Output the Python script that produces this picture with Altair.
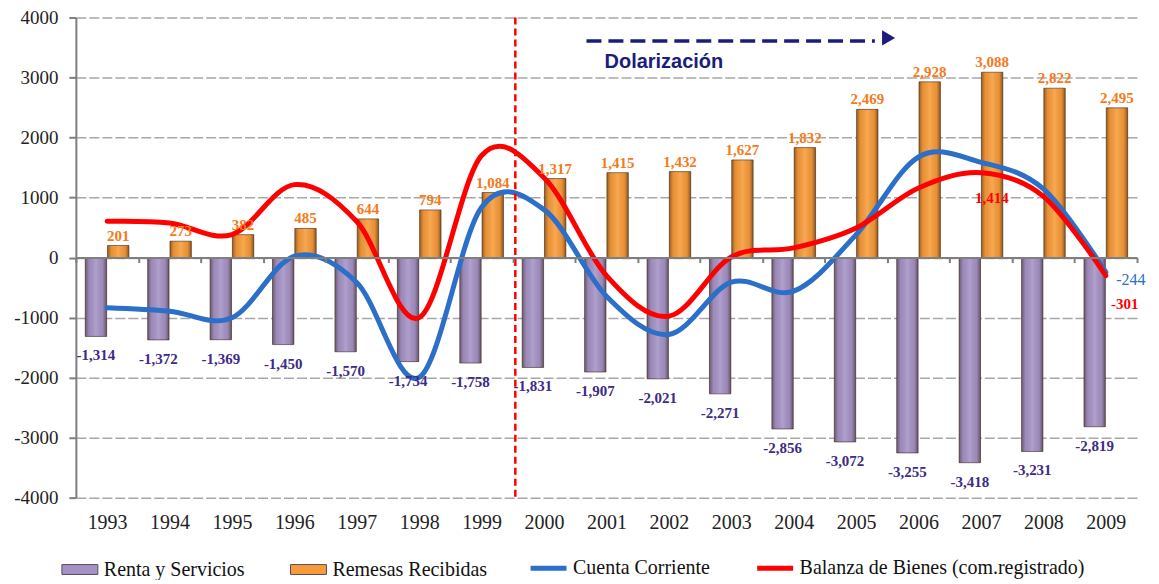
import altair as alt
import pandas as pd

years = [str(y) for y in range(1993, 2010)]
renta = [-1314, -1372, -1369, -1450, -1570, -1734, -1758, -1831, -1907, -2021,
         -2271, -2856, -3072, -3255, -3418, -3231, -2819]
remesas = [201, 273, 382, 485, 644, 794, 1084, 1317, 1415, 1432, 1627, 1832,
           2469, 2928, 3088, 2822, 2495]
cuenta = [-837, -893, -1004, 22, -416, -1997, 840, 799, -644, -1281, -411,
          -560, 383, 1676, 1586, 1143, -244]
balanza = [604, 577, 383, 1215, 600, -1000, 1700, 1330, -300, -976, 10, 161,
           494, 1160, 1414, 1020, -301]

series_bars = ["Renta y Servicios", "Remesas Recibidas"]
series_lines = ["Cuenta Corriente", "Balanza de Bienes (com.registrado)"]
bar_colors = ["#a593c6", "#f89c3a"]
line_colors = ["#2b6fc8", "#ff0000"]

brows = []
for i, y in enumerate(years):
    brows.append({"year": y, "series": series_bars[0], "value": renta[i], "label": f"{renta[i]:,}"})
    brows.append({"year": y, "series": series_bars[1], "value": remesas[i], "label": f"{remesas[i]:,}"})
bars_df = pd.DataFrame(brows)

lrows = []
for i, y in enumerate(years):
    lrows.append({"year": y, "series": series_lines[0], "value": cuenta[i], "label": f"{cuenta[i]:,}"})
    lrows.append({"year": y, "series": series_lines[1], "value": balanza[i], "label": f"{balanza[i]:,}"})
lines_df = pd.DataFrame(lrows)

SERIF = "Liberation Serif"

fill_scale = alt.Scale(domain=series_bars, range=bar_colors)
stroke_scale = alt.Scale(domain=series_lines, range=line_colors)
legend_bars = alt.Legend(
    title=None, orient="none", legendX=-15, legendY=543, direction="horizontal",
    columns=2, symbolType="M-1,-0.55H3V0.55H-1Z", symbolSize=324,
    symbolStrokeColor="#5a4a60", symbolStrokeWidth=1, symbolOpacity=1,
    labelFont=SERIF, labelFontSize=20, labelColor="#111111",
    labelOffset=23, columnPadding=43, padding=0, labelLimit=500,
)
legend_lines = alt.Legend(
    title=None, orient="none", legendX=453, legendY=531, direction="horizontal",
    columns=2, symbolType="stroke", symbolSize=1296, symbolStrokeWidth=5, symbolOpacity=1,
    labelFont=SERIF, labelFontSize=20, labelColor="#111111",
    labelOffset=4, columnPadding=36, padding=0, labelLimit=500,
)

xscale = alt.Scale(domain=years, paddingInner=0, paddingOuter=0)
xaxis = alt.Axis(
    title=None, orient="bottom", offset=-240.5, domainColor="#7f7f7f", domainWidth=2,
    tickColor="#7f7f7f", tickWidth=2, tickSize=5, tickBand="extent", labelPadding=250,
    labelFont=SERIF, labelFontSize=20, labelColor="#222222", labelAngle=0, grid=False, zindex=1,
)
yscale = alt.Scale(domain=[-4000, 4000], nice=False)
yaxis = alt.Axis(
    title=None, values=list(range(-4000, 4001, 1000)), labelExpr="'' + datum.value",
    grid=True, gridColor="#a8a8a8", gridDash=[10, 3], gridWidth=1.5,
    domainColor="#7f7f7f", domainWidth=2, tickColor="#7f7f7f", tickSize=7, tickWidth=2,
    labelPadding=11, labelFont=SERIF, labelFontSize=19, labelColor="#222222",
)
xoff_scale = alt.Scale(domain=series_bars, paddingOuter=0.42, paddingInner=0.04)

X = alt.X("year:N", scale=xscale, axis=xaxis, sort=years)
XO = alt.XOffset("series:N", scale=xoff_scale, sort=series_bars)
Y = alt.Y("value:Q", scale=yscale, axis=yaxis)

base_bars = alt.Chart(bars_df)
bars = base_bars.mark_bar().encode(
    x=X, xOffset=XO, y=Y,
    fill=alt.Fill("series:N", scale=fill_scale, legend=legend_bars),
)
shade_grad = alt.LinearGradient(
    gradient="linear", x1=0, x2=1, y1=0, y2=0,
    stops=[
        alt.GradientStop(offset=0, color="rgba(40,20,10,0.45)"),
        alt.GradientStop(offset=0.18, color="rgba(40,20,10,0.08)"),
        alt.GradientStop(offset=0.5, color="rgba(255,255,255,0.12)"),
        alt.GradientStop(offset=0.82, color="rgba(40,20,10,0.08)"),
        alt.GradientStop(offset=1, color="rgba(40,20,10,0.5)"),
    ],
)
shade = base_bars.mark_bar(fill=shade_grad, stroke="rgba(50,30,20,0.55)", strokeWidth=1).encode(
    x=X, xOffset=XO, y=Y,
)

lbl_renta = base_bars.transform_filter(alt.datum.series == series_bars[0]).mark_text(
    dy=19, baseline="middle", font=SERIF, fontWeight="bold", fontSize=15, color="#3d2b86"
).encode(x=X, xOffset=XO, y=Y, text="label:N")
lbl_rem = base_bars.transform_filter(alt.datum.series == series_bars[1]).mark_text(
    dy=-10, baseline="middle", font=SERIF, fontWeight="bold", fontSize=15, color="#f47a20"
).encode(x=X, xOffset=XO, y=Y, text="label:N")

base_lines = alt.Chart(lines_df)
line_blue = base_lines.transform_filter(alt.datum.series == series_lines[0]).mark_line(
    interpolate="cardinal", tension=0, strokeWidth=5, strokeCap="round"
).encode(x=X, y=Y, stroke=alt.Stroke("series:N", scale=stroke_scale, legend=legend_lines))
line_red = base_lines.transform_filter(alt.datum.series == series_lines[1]).mark_line(
    interpolate="cardinal", tension=0, strokeWidth=5, strokeCap="round"
).encode(x=X, y=Y, stroke=alt.Stroke("series:N", scale=stroke_scale, legend=legend_lines))

lbl_cc = base_lines.transform_filter(
    (alt.datum.series == series_lines[0]) & (alt.datum.year == "2009")
).mark_text(dx=25, dy=8, baseline="middle", font=SERIF, fontSize=16, color="#2b6fc8").encode(
    x=X, y=Y, text="label:N")
lbl_bb = base_lines.transform_filter(
    (alt.datum.series == series_lines[1]) & (alt.datum.year == "2009")
).mark_text(dx=19, dy=28, baseline="middle", font=SERIF, fontWeight="bold", fontSize=15, color="#ff0000").encode(
    x=X, y=Y, text="label:N")
lbl_bb07 = base_lines.transform_filter(
    (alt.datum.series == series_lines[1]) & (alt.datum.year == "2007")
).mark_text(dx=11, dy=25, baseline="middle", font=SERIF, fontWeight="bold", fontSize=15, color="#ff0000").encode(
    x=X, y=Y, text="label:N")

inner = alt.layer(bars, shade, line_blue, line_red, lbl_renta, lbl_rem, lbl_cc, lbl_bb, lbl_bb07)

# annotations on a numeric year axis
xq = alt.Scale(domain=[1992.5, 2009.5], nice=False, zero=False)
one = alt.Chart(pd.DataFrame({"k": [0]}))
dollar_year = 1999.54
arrow_start, arrow_end, arrow_head = 2000.68, 2005.3, 2005.52
ann_rule = one.mark_rule(color="#ff0000", strokeDash=[7, 4], strokeWidth=2.5).encode(
    x=alt.XDatum(dollar_year, type="quantitative", scale=xq, axis=None),
    y=alt.YDatum(4000, type="quantitative"), y2=alt.Y2Datum(-4000),
)
ann_arrow = one.mark_rule(color="#1c1c7c", strokeDash=[15, 7], strokeWidth=3.5).encode(
    x=alt.XDatum(arrow_start, type="quantitative", scale=xq, axis=None),
    x2=alt.X2Datum(arrow_end),
    y=alt.YDatum(3610, type="quantitative"),
)
ann_head = one.mark_point(shape="triangle-right", filled=True, size=230, color="#1c1c7c", opacity=1).encode(
    x=alt.XDatum(arrow_head, type="quantitative", scale=xq, axis=None),
    y=alt.YDatum(3660, type="quantitative"),
)
ann_text = one.mark_text(text="Dolarización", font="Liberation Sans", fontWeight="bold",
                         fontSize=20, color="#1c1c7c", baseline="middle").encode(
    x=alt.XDatum(2001.92, type="quantitative", scale=xq, axis=None),
    y=alt.YDatum(3260, type="quantitative"),
)

chart = alt.layer(inner, ann_rule, ann_arrow, ann_head, ann_text).resolve_scale(
    x="independent"
).properties(
    width=1063, height=481, padding={"left": 5, "top": 0, "right": 5, "bottom": 0},
    background="white",
).configure_view(stroke=None).configure_axis(
    labelFont=SERIF, labelFontSize=19, labelColor="#222222"
).configure_legend(
    labelFont=SERIF, labelFontSize=20, labelColor="#111111"
)

chart.save("out.html", embed_options={"renderer": "svg", "actions": False})
